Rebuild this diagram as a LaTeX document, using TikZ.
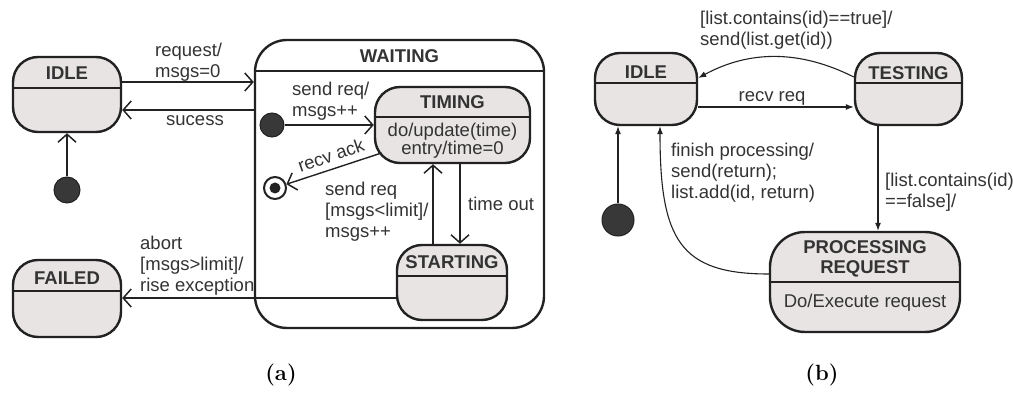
\documentclass[tikz,border=0pt]{standalone}
\usepackage{fontspec}
\newfontfamily\arialf{Liberation Sans}
\usetikzlibrary{arrows.meta,calc}
\definecolor{stfill}{HTML}{E8E4E4}
\definecolor{ink}{HTML}{222222}
\definecolor{txt}{HTML}{333333}
\begin{document}
\begin{tikzpicture}[x=1pt,y=-1pt,
 st/.style={draw=ink,line width=2.4pt,fill=stfill,rounded corners=25pt,inner sep=0pt},
 hdr/.style={draw=ink,line width=2.2pt},
 ttl/.style={font=\arialf\bfseries\fontsize{18.5}{20}\selectfont,text=txt,inner sep=0pt,align=center},
 lbl/.style={font=\arialf\fontsize{18.5}{21}\selectfont,text=txt,align=left,inner sep=0pt},
 body/.style={font=\arialf\fontsize{18.5}{18}\selectfont,text=txt,align=center,inner sep=0pt},
 arrA/.style={draw=ink,line width=1.4pt,-{Straight Barb[length=8pt,width=18pt,line width=1.5pt]}},
 arrB/.style={draw=ink,line width=1.1pt,-{Latex[length=8pt,width=6pt]}},
 initdot/.style={circle,fill=ink!90,draw=ink,line width=1pt,inner sep=0pt},
 captext/.style={font=\fontsize{22}{26}\selectfont\bfseries,inner sep=0pt},
]
\useasboundingbox (0,0) rectangle (1013,398);

% ---------- (a) ----------
\node[st,minimum width=108,minimum height=75] (idleA) at (67,94.5) {};
\draw[hdr] (idleA.west |- 0,88) -- (idleA.east |- 0,88);
\node[ttl] (idleAt) at (67,73) {IDLE};

\node[initdot,minimum size=26] (initA) at (67,190) {};

\node[st,fill=none,rounded corners=32pt,minimum width=289,minimum height=288] (wait) at (399.5,184) {};
\draw[hdr] (wait.west |- 0,71) -- (wait.east |- 0,71);
\node[ttl] (waitt) at (399.5,56) {WAITING};

\node[st,minimum width=155,minimum height=76] (timA) at (452.5,125) {};
\draw[hdr] (timA.west |- 0,117) -- (timA.east |- 0,117);
\node[ttl] (timAt) at (452.5,102) {TIMING};
\node[body] (timAb) at (452.5,141) {do/update(time)\\entry/time=0};

\node[initdot,minimum size=24] (initW) at (272,125) {};
\node[circle,draw=ink,line width=2pt,fill=white,minimum size=22,inner sep=0pt] (finA) at (275,188) {};
\node[circle,fill=ink,minimum size=11,inner sep=0pt] (finAin) at (finA) {};

\node[st,minimum width=110,minimum height=75] (startA) at (452,282.5) {};
\draw[hdr] (startA.west |- 0,276) -- (startA.east |- 0,276);
\node[ttl] (startAt) at (452,262) {STARTING};

\node[st,minimum width=108,minimum height=77] (failA) at (67,298.5) {};
\draw[hdr] (failA.west |- 0,291) -- (failA.east |- 0,291);
\node[ttl] (failAt) at (67,278) {FAILED};

\draw[arrA] (idleA.east |- 0,82) -- (wait.west |- 0,82);
\draw[arrA] (wait.west |- 0,110) -- (idleA.east |- 0,110);
\draw[arrA] (initA) -- (idleA);
\draw[arrA] (initW) -- (timA);
\draw[arrA] ($(timA.center)+(-71,28)$) -- (finA);
\draw[arrA] (timA.south -| 460,0) -- (startA.north -| 460,0);
\draw[arrA] (startA.north -| 433,0) -- (timA.south -| 433,0);
\draw[arrA] (startA.west |- 0,298) -- (failA.east |- 0,298);

\node[lbl,anchor=west] (l1) at (155,62) {request/\\msgs=0};
\node[lbl,anchor=west] (l2) at (166,121) {sucess};
\node[lbl,anchor=west] (l3) at (292,101) {send req/\\msgs++};
\node[lbl,rotate=19] (l4) at (331,155) {recv ack};
\node[lbl,anchor=west] (l5) at (325,212) {send req\\{[}msgs<limit{]}/\\msgs++};
\node[lbl,anchor=west] (l6) at (468,204) {time out};
\node[lbl,anchor=west] (l7) at (140,266) {abort\\{[}msgs>limit{]}/\\rise exception};

% ---------- (b) ----------
\node[st,minimum width=102,minimum height=72] (idleB) at (646,89) {};
\draw[hdr] (idleB.west |- 0,83) -- (idleB.east |- 0,83);
\node[ttl] (idleBt) at (646,72) {IDLE};

\node[st,minimum width=107,minimum height=72] (testB) at (908.5,89) {};
\draw[hdr] (testB.west |- 0,83) -- (testB.east |- 0,83);
\node[ttl] (testBt) at (908.5,73) {TESTING};

\node[st,rounded corners=35pt,minimum width=190,minimum height=100] (procB) at (865,282) {};
\draw[hdr] (procB.west |- 0,282) -- (procB.east |- 0,282);
\node[ttl] (procBt) at (865,259) {PROCESSING\\REQUEST};
\node[body] (procBb) at (865,303) {Do/Execute request};

\node[initdot,minimum size=32] (initB) at (618,220) {};

\draw[arrB] (idleB.east |- 0,107) -- (testB.west |- 0,107);
\draw[arrB] (testB.west |- 0,77) .. controls (800,50) and (750,50) .. (idleB.east |- 0,78);
\draw[arrB] (initB) -- (idleB.south -| initB);
\draw[arrB] (procB.west |- 0,274) .. controls (680,274) and (660,240) .. (idleB.south -| 660,0);
\draw[arrB] (testB.south -| 878,0) -- (procB.north -| 878,0);

\node[lbl,anchor=west] (m1) at (700,30) {{[}list.contains(id)==true{]}/\\send(list.get(id))};
\node[lbl,anchor=center] (m2) at (772,98) {recv req};
\node[lbl,anchor=west] (m3) at (671,173) {finish processing/\\send(return);\\list.add(id, return)};
\node[lbl,anchor=west] (m4) at (885,192) {{[}list.contains(id)\\==false{]}/};

% captions
\node[captext] (capA) at (281,375) {(a)};
\node[captext] (capB) at (822,375) {(b)};
\end{tikzpicture}
\end{document}
